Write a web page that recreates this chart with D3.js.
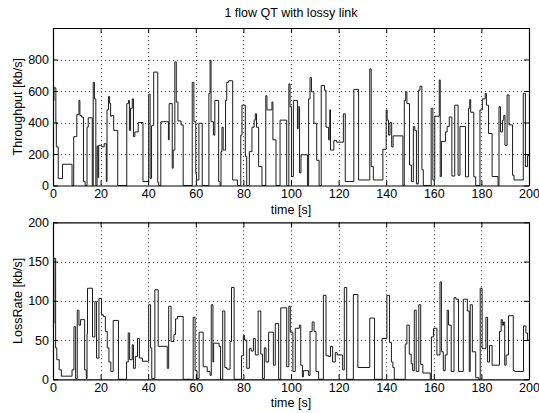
<!DOCTYPE html>
<html>
<head>
<meta charset="utf-8">
<script src="https://cdn.jsdelivr.net/npm/d3@7"></script>
<style>
  body { margin: 0; background: #fff; }
  svg { display: block; }
  text { font-family: 'Liberation Sans', Arial, sans-serif; font-size: 12.5px; fill: #000; }
</style>
</head>
<body>
<div class="canvas"></div>
<script>
// chart texts and ticks
const title = '1 flow QT with lossy link';
const xLabel = 'time [s]';
const xTicks = [0, 20, 40, 60, 80, 100, 120, 140, 160, 180, 200];
const throughputTicks = [0, 200, 400, 600, 800];
const lossTicks = [0, 50, 100, 150, 200];

// [time s, kb/s] - value holds until the next step
const throughputSteps = [
  [0,540],[0.4,620],[1.2,400],[1.4,245],[2.2,45],[4,135],[8,0],[8.7,310],[10,450],[10.9,540],
  [11.3,445],[12,435],[12.8,25],[13.5,0],[14.3,370],[14.8,430],[16.5,0],[16.9,655],[17.4,550],[18,0],
  [18.5,250],[18.9,50],[19.2,255],[20.5,245],[21.5,265],[22.4,25],[22.7,480],[23.3,565],[23.8,520],[24.2,440],
  [24.6,445],[25.5,350],[27.2,0],[31,520],[31.7,540],[32.1,350],[32.6,490],[33.3,550],[33.8,310],[34.4,340],
  [35.8,400],[37.8,25],[40.2,580],[40.8,45],[41.4,380],[42.3,720],[44,20],[44.4,0],[45.3,405],[48.5,290],
  [48.8,520],[50.1,110],[50.5,225],[51.2,785],[51.8,530],[52.5,410],[53.8,385],[54.7,0],[58.5,655],[59.2,405],
  [60,75],[60.3,35],[61.3,395],[62.7,0],[65.5,585],[66,795],[66.4,405],[67.4,320],[68,540],[69.6,25],
  [70.2,0],[70.6,215],[71,370],[71.5,225],[72.5,540],[73,655],[73.8,665],[75.5,35],[77.5,0],[78.9,320],
  [79.4,510],[80.8,185],[81.4,0],[82.5,215],[83.6,370],[84.5,415],[85,455],[85.5,370],[86.4,120],[87.8,0],
  [89.4,570],[89.9,480],[92,530],[92.4,290],[93.7,0],[95.4,415],[98.2,0],[99.1,645],[99.6,500],[100.2,57],
  [101,540],[102.7,360],[103,500],[103.6,80],[104.2,195],[106.9,0],[107.4,550],[108,685],[108.6,595],[109.6,395],
  [110.8,160],[111.8,0],[112.7,635],[114.1,605],[114.7,370],[115.8,290],[116.3,480],[116.6,225],[118,285],[119.2,275],
  [122,455],[122.8,25],[126.4,610],[128.4,35],[133.1,740],[133.7,120],[134.6,35],[138.6,230],[140,480],[140.4,415],
  [141,320],[141.6,400],[142.3,245],[142.9,315],[147,0],[147.6,540],[148.2,595],[148.7,520],[149.8,130],[150.6,25],
  [151.4,375],[152,350],[152.7,10],[153.5,605],[154.2,630],[155,100],[155.6,0],[158.9,490],[159.6,35],[160.4,440],
  [162.3,670],[162.7,57],[163.2,280],[164.9,340],[165.6,375],[166.5,435],[167.6,60],[168.8,510],[170.2,65],[171,375],
  [173.3,55],[174.6,490],[175.1,545],[175.5,465],[176.8,55],[177.6,0],[179.4,480],[180.4,550],[181.6,585],[182.1,510],
  [183,330],[184.5,57],[187,0],[187.4,500],[188,340],[188.9,415],[189.4,445],[189.9,255],[190.8,575],[191.6,385],
  [193.1,65],[193.7,35],[197.6,585],[198.5,120],[199.4,190]
];

const lossSteps = [
  [0,71],[0.4,154],[1.1,40],[1.6,25],[2.6,12],[3.5,4],[8,12],[8.8,67],[9.5,1],[10.2,88],
  [10.9,69],[11.6,76],[13.3,12],[14,1],[14.3,58],[14.5,116],[16.6,54],[17.6,99],[18.3,27],[19.3,103],
  [20.4,82],[21.2,80],[22,61],[22.8,40],[23.5,22],[24.3,10],[25.3,75],[27.5,0],[30.9,22],[31.6,59],
  [32.2,25],[33.3,44],[33.8,14],[34.6,29],[35.5,52],[36.3,27],[37.6,23],[40.2,95],[41,40],[41.5,1],
  [42.8,114],[44.2,42],[48,14],[48.6,93],[49.6,48],[50.8,57],[51.5,77],[52.3,80],[54.7,0],[58.9,79],
  [59.7,11],[60.5,1],[61.4,60],[63.1,16],[64.8,10],[66,5],[66.5,95],[67.2,22],[67.5,46],[69.8,42],
  [70.4,0],[71.3,87],[72.2,15],[73,13],[74.4,48],[75,117],[76.1,0],[79.2,30],[80,56],[80.5,50],
  [81.4,14],[82.5,39],[83.3,36],[84.2,52],[85,31],[86.2,87],[87.3,32],[88,1],[88.8,40],[89.5,22],
  [90.6,60],[92.6,18],[93.4,71],[94.8,0],[95.7,91],[98.2,16],[99.1,93],[99.7,60],[100.8,10],[101.8,65],
  [103.5,69],[104.1,18],[104.8,3],[105.2,11],[107.4,5],[108,61],[108.9,73],[109.7,61],[110.5,10],[111.6,0],
  [113.6,107],[114.7,30],[115.8,29],[116.6,42],[117.5,22],[118.6,34],[119.4,31],[121.7,12],[122.4,117],[123.4,0],
  [126.2,108],[128.1,15],[133.1,78],[135.1,0],[138.3,52],[140.3,107],[141.4,47],[142.2,22],[142.8,15],[143.4,0],
  [148,45],[148.7,69],[149.7,32],[150.5,20],[151.1,11],[151.8,88],[152.6,10],[153.7,95],[154.5,19],[155.4,8],
  [158.5,0],[159,54],[159.9,65],[161.3,31],[162.6,124],[163.2,35],[164,11],[164.8,31],[165.6,88],[166.2,69],
  [167.3,10],[168.5,104],[169.3,102],[170.4,10],[172.4,102],[174.1,87],[174.9,10],[175.3,95],[176.2,35],[177.6,2],
  [178.9,0],[179.5,116],[180.3,39],[181.9,79],[182.6,22],[183.4,43],[184.5,18],[187.6,61],[188.3,76],[188.8,69],
  [189.3,73],[189.8,18],[190.4,31],[191.4,81],[193.4,11],[194,10],[197.7,68],[198.7,59],[199.4,50]
];

const dims = {
  width: 539,
  height: 413,
  left: 53,
  right: 529,
  tick: 5
};

const panels = [
  { top: 28, bottom: 185.5, yMax: 1000, ticks: throughputTicks, label: 'Throughput [kb/s]', steps: throughputSteps },
  { top: 222.3, bottom: 379.3, yMax: 200, ticks: lossTicks, label: 'LossRate [kb/s]', steps: lossSteps }
];

const svg = d3.select('.canvas')
  .append('svg')
  .attr('width', dims.width)
  .attr('height', dims.height);

svg.append('text')
  .attr('x', (dims.left + dims.right) / 2)
  .attr('y', 17)
  .attr('text-anchor', 'middle')
  .text(title);

panels.forEach((p) => {
  const x = d3.scaleLinear().domain([0, 200]).range([dims.left, dims.right]);
  const y = d3.scaleLinear().domain([0, p.yMax]).range([p.bottom, p.top]);
  const g = svg.append('g');

  // dotted grid
  g.append('g')
    .selectAll('line.vgrid')
    .data(xTicks.filter((d) => d > 0 && d < 200))
    .enter().append('line')
    .attr('x1', (d) => Math.round(x(d)) + 0.5)
    .attr('x2', (d) => Math.round(x(d)) + 0.5)
    .attr('y1', p.top)
    .attr('y2', p.bottom)
    .attr('stroke', '#444')
    .attr('stroke-dasharray', '1,3');
  g.append('g')
    .selectAll('line.hgrid')
    .data(p.ticks.filter((d) => d > 0 && d < p.yMax))
    .enter().append('line')
    .attr('x1', dims.left)
    .attr('x2', dims.right)
    .attr('y1', (d) => Math.round(y(d)) + 0.5)
    .attr('y2', (d) => Math.round(y(d)) + 0.5)
    .attr('stroke', '#444')
    .attr('stroke-dasharray', '1,3');

  // stairs
  const data = p.steps.concat([[200, p.steps[p.steps.length - 1][1]]]);
  const line = d3.line()
    .x((d) => x(d[0]))
    .y((d) => y(d[1]))
    .curve(d3.curveStepAfter);
  g.append('path')
    .datum(data)
    .attr('fill', 'none')
    .attr('stroke', '#1a1a1a')
    .attr('stroke-width', 1)
    .attr('d', line);

  // axes, ticks pointing inward
  const xAxis = g.append('g')
    .attr('transform', `translate(0, ${p.bottom})`)
    .call(d3.axisBottom(x).tickValues(xTicks).tickSize(-dims.tick).tickSizeOuter(0).tickPadding(3.5));
  const xTop = g.append('g')
    .attr('transform', `translate(0, ${p.top})`)
    .call(d3.axisTop(x).tickValues(xTicks).tickSize(-dims.tick).tickSizeOuter(0).tickFormat(''));
  const yAxis = g.append('g')
    .attr('transform', `translate(${dims.left}, 0)`)
    .call(d3.axisLeft(y).tickValues(p.ticks).tickSize(-dims.tick).tickSizeOuter(0).tickPadding(4));
  const yRight = g.append('g')
    .attr('transform', `translate(${dims.right}, 0)`)
    .call(d3.axisRight(y).tickValues(p.ticks).tickSize(-dims.tick).tickSizeOuter(0).tickFormat(''));

  [xAxis, xTop, yAxis, yRight].forEach((a) => {
    a.selectAll('path.domain').attr('stroke', '#000').attr('stroke-width', 1.2);
    a.selectAll('.tick line').attr('stroke', '#000');
    a.selectAll('text')
      .attr('font-family', "'Liberation Sans', Arial, sans-serif")
      .attr('font-size', '12.5px')
      .attr('fill', '#000');
  });

  g.append('text')
    .attr('x', (dims.left + dims.right) / 2)
    .attr('y', p.bottom + 28)
    .attr('text-anchor', 'middle')
    .text(xLabel);

  g.append('text')
    .attr('transform', `translate(22, ${(p.top + p.bottom) / 2}) rotate(-90)`)
    .attr('text-anchor', 'middle')
    .text(p.label);
});
</script>
</body>
</html>
